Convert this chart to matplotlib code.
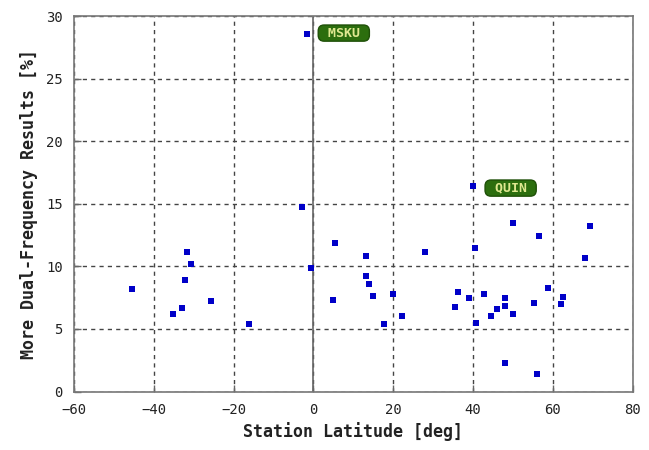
import matplotlib
matplotlib.use("Agg")
import matplotlib.pyplot as plt

lat = [-1.5, -2.9, -45.5, -31.7, -30.8, -32.2, -25.6, -33.0, -35.1, -16.1,
       -0.7, 5.3, 4.8, 13.1, 13.1, 13.8, 14.8, 17.7, 40.0, 20.0, 22.1, 27.9,
       35.5, 36.2, 39.0, 40.5, 40.8, 42.7, 44.6, 46.0, 48.1, 48.1, 47.9, 50.0,
       50.0, 55.2, 56.5, 56.0, 58.7, 61.9, 62.6, 68.0, 69.4]
pct = [28.56, 14.77, 8.21, 11.14, 10.21, 8.9, 7.25, 6.64, 6.21, 5.36,
       9.84, 11.84, 7.33, 10.8, 9.25, 8.56, 7.6, 5.36, 16.45, 7.78, 6.05, 11.14,
       6.74, 7.94, 7.44, 11.49, 5.44, 7.78, 6.05, 6.56, 7.44, 6.82, 2.24, 6.21,
       13.49, 7.09, 12.45, 1.36, 8.29, 6.98, 7.54, 10.64, 13.22]
labels = ["MSKU", "QUIN"]
label_xy = [(7.6, 28.65), (49.4, 16.26)]
xticks = [-60, -40, -20, 0, 20, 40, 60, 80]
yticks = [0, 5, 10, 15, 20, 25, 30]

fig = plt.figure(figsize=(6.49, 4.5), dpi=100)
ax = fig.add_axes([0.114, 0.130, 0.861, 0.834])
ax.set_xlim(-60, 80)
ax.set_ylim(0, 30)
ax.set_xticks(xticks)
ax.set_yticks(yticks)
ax.grid(True, color="#444444", linestyle=(0, (3, 3)), linewidth=1.0)
ax.axvline(0, color="#666666", linewidth=1.2, zorder=2)
ax.scatter(lat, pct, marker="s", s=16, color="#0000c8", zorder=3, linewidths=0)
for s in ax.spines.values():
    s.set_color("#777777")
    s.set_linewidth(1.2)
ax.tick_params(direction="in", length=5, color="#666666", width=1,
               labelsize=10, pad=8)
for t in ax.get_xticklabels() + ax.get_yticklabels():
    t.set_fontfamily("DejaVu Sans Mono")
    t.set_color("#222222")
ax.set_xlabel("Station Latitude [deg]", fontfamily="DejaVu Sans Mono",
              fontweight="bold", fontsize=12, color="#222222", labelpad=4)
ax.set_ylabel("More Dual-Frequency Results [%]", fontfamily="DejaVu Sans Mono",
              fontweight="bold", fontsize=12, color="#222222", labelpad=6)
for lab, (x, y) in zip(labels, label_xy):
    ax.text(x, y, " " + lab + " ", ha="center", va="center",
            fontfamily="DejaVu Sans Mono",
            fontweight="bold", fontsize=9.5, color="#dfe890", zorder=4,
            bbox=dict(boxstyle="round,pad=0.12,rounding_size=0.45",
                      fc="#2c6e0e", ec="#1f5008", lw=1))
fig.savefig("out.png", dpi=100)
